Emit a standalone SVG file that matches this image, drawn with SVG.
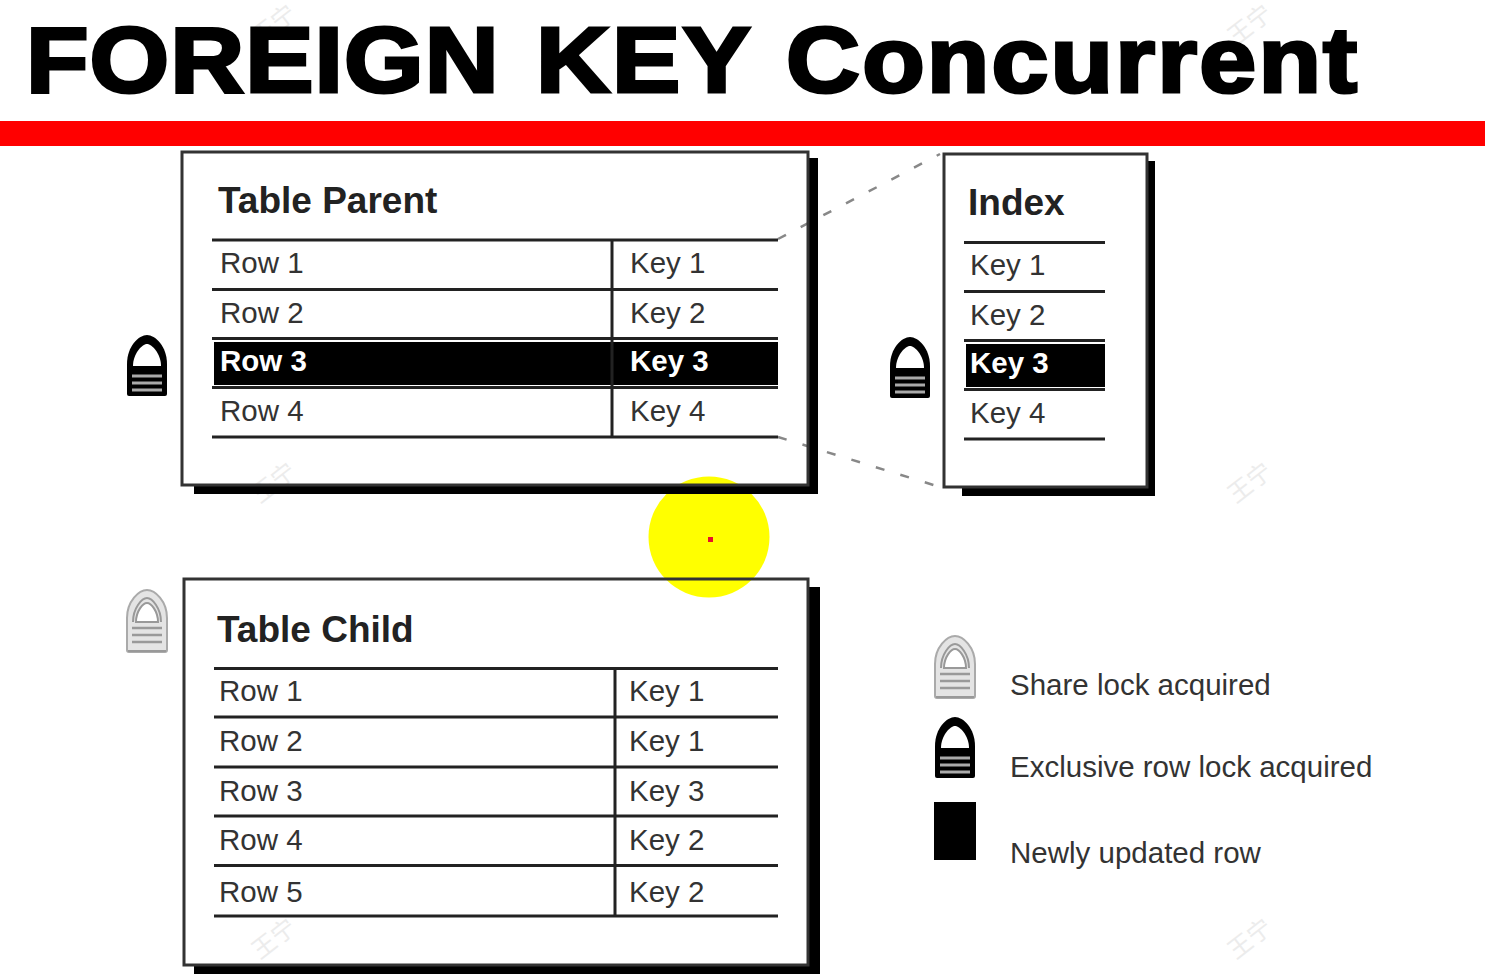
<svg xmlns="http://www.w3.org/2000/svg" width="1485" height="980" viewBox="0 0 1485 980">
<style>
text{font-family:"Liberation Sans",Arial,sans-serif;fill:#2b2b2b}
.title{font-size:93px;font-weight:700;fill:#000;stroke:#000;stroke-width:3.200px}
.h{font-size:37px;font-weight:700;fill:#222}
.c{font-size:29.500px;fill:#333}
.w{font-size:29.500px;font-weight:700;fill:#fff}
.l{font-size:29.500px;fill:#333}
.box{fill:none;stroke:#333;stroke-width:3px}
.sh{fill:#000}
.ln{stroke:#222;stroke-width:3px;fill:none}
.dash{stroke:#888;stroke-width:2.500px;stroke-dasharray:9 16.600;fill:none}
.wm{font-family:"Noto Sans CJK SC",sans-serif;font-size:24px;fill:#ececec}
</style>
<defs>
<g id="xlock">
<path d="M-20 -2V-32C-20 -50 -8 -61 0 -61C8 -61 20 -50 20 -32V-2Q20 0 18 0H-18Q-20 0 -20 -2Z" fill="#000"/>
<path d="M-14 -30C-14 -42 -5 -52 0 -52C5 -52 14 -42 14 -30Z" fill="#fff"/>
<path d="M-15 -20H15M-15 -13H15M-15 -6H15" stroke="#aaa" stroke-width="2.800"/>
</g>
<g id="slock">
<path d="M-20 -2V-34C-20 -51 -8 -62 0 -62C8 -62 20 -51 20 -34V-2Q20 0 18 0H-18Q-20 0 -20 -2Z" fill="#e4e4e4" stroke="#aaa" stroke-width="2"/>
<path d="M-14 -30C-14 -44 -5 -54 0 -54C5 -54 14 -44 14 -30" fill="none" stroke="#999" stroke-width="2"/>
<path d="M-11 -30C-11 -41 -4 -49 0 -49C4 -49 11 -41 11 -30Z" fill="#fff" stroke="#999" stroke-width="2"/>
<path d="M-15 -24H15M-15 -17H15M-15 -10H15" stroke="#999" stroke-width="2.500"/>
<path d="M-19 -1H19" stroke="#999" stroke-width="2"/>
</g>
</defs>

<g id="watermarks">
<text class="wm" transform="translate(260 46) rotate(-38)">王宁</text>
<text class="wm" transform="translate(1236 46) rotate(-38)">王宁</text>
<text class="wm" transform="translate(260 504) rotate(-38)">王宁</text>
<text class="wm" transform="translate(1236 504) rotate(-38)">王宁</text>
<text class="wm" transform="translate(260 960) rotate(-38)">王宁</text>
<text class="wm" transform="translate(1236 960) rotate(-38)">王宁</text>
</g>

<circle cx="709" cy="537" r="60.500" fill="#ffff00"/>
<rect x="708" y="537" width="5" height="5" fill="#e8102a"/>

<text class="title" transform="translate(26 92) scale(1.1 1)"><tspan x="0" letter-spacing="1">FOREIGN</tspan> <tspan x="463.600" letter-spacing="2">KEY</tspan> <tspan x="691" letter-spacing="2">Concurrent</tspan></text>
<rect x="0" y="121" width="1485" height="25" fill="#ff0000"/>

<g id="connectors">
<path class="dash" d="M778 239L940 154"/>
<path class="dash" d="M778 437L940 487"/>
</g>

<g id="table-parent">
<path class="sh" d="M809 158H818V494H194V485H809Z"/>
<rect class="box" x="182" y="152" width="626" height="333"/>
<text class="h" x="218" y="213">Table Parent</text>
<rect x="214" y="342" width="564" height="43" fill="#000"/>
<path class="ln" d="M212 240H778M212 289.500H778M212 338.500H778M212 387.500H778M212 437H778M612 240V437"/>
<text class="c" x="220" y="273">Row 1</text><text class="c" x="630" y="273">Key 1</text>
<text class="c" x="220" y="323">Row 2</text><text class="c" x="630" y="323">Key 2</text>
<text class="w" x="220" y="371">Row 3</text><text class="w" x="630" y="371">Key 3</text>
<text class="c" x="220" y="421">Row 4</text><text class="c" x="630" y="421">Key 4</text>
</g>

<g id="index">
<path class="sh" d="M1147 161H1155V496H962V487H1147Z"/>
<rect class="box" x="944" y="154" width="203" height="333"/>
<text class="h" x="968" y="215">Index</text>
<rect x="966" y="344" width="139" height="43" fill="#000"/>
<path class="ln" d="M964 242.500H1105M964 291.500H1105M964 340.500H1105M964 389.500H1105M964 439H1105"/>
<text class="c" x="970" y="275">Key 1</text>
<text class="c" x="970" y="325">Key 2</text>
<text class="w" x="970" y="373">Key 3</text>
<text class="c" x="970" y="423">Key 4</text>
</g>

<g id="table-child">
<path class="sh" d="M809 587H820V974H194V965H809Z"/>
<rect class="box" x="184" y="579" width="624" height="386"/>
<text class="h" x="217" y="642">Table Child</text>
<path class="ln" d="M214 668.500H778M214 717H778M214 767H778M214 816H778M214 865.500H778M214 916H778M615 668.500V916"/>
<text class="c" x="219" y="701">Row 1</text><text class="c" x="629" y="701">Key 1</text>
<text class="c" x="219" y="751">Row 2</text><text class="c" x="629" y="751">Key 1</text>
<text class="c" x="219" y="801">Row 3</text><text class="c" x="629" y="801">Key 3</text>
<text class="c" x="219" y="850">Row 4</text><text class="c" x="629" y="850">Key 2</text>
<text class="c" x="219" y="902">Row 5</text><text class="c" x="629" y="902">Key 2</text>
</g>

<g id="lock-parent"><use href="#xlock" x="147" y="396"/></g>
<g id="lock-index"><use href="#xlock" x="910" y="398"/></g>
<g id="lock-child"><use href="#slock" x="147" y="652"/></g>

<g id="legend">
<use href="#slock" x="955" y="698"/>
<use href="#xlock" x="955" y="778"/>
<rect x="934" y="802" width="42" height="58" fill="#000"/>
<text class="l" x="1010" y="695">Share lock acquired</text>
<text class="l" x="1010" y="777">Exclusive row lock acquired</text>
<text class="l" x="1010" y="863">Newly updated row</text>
</g>
</svg>
